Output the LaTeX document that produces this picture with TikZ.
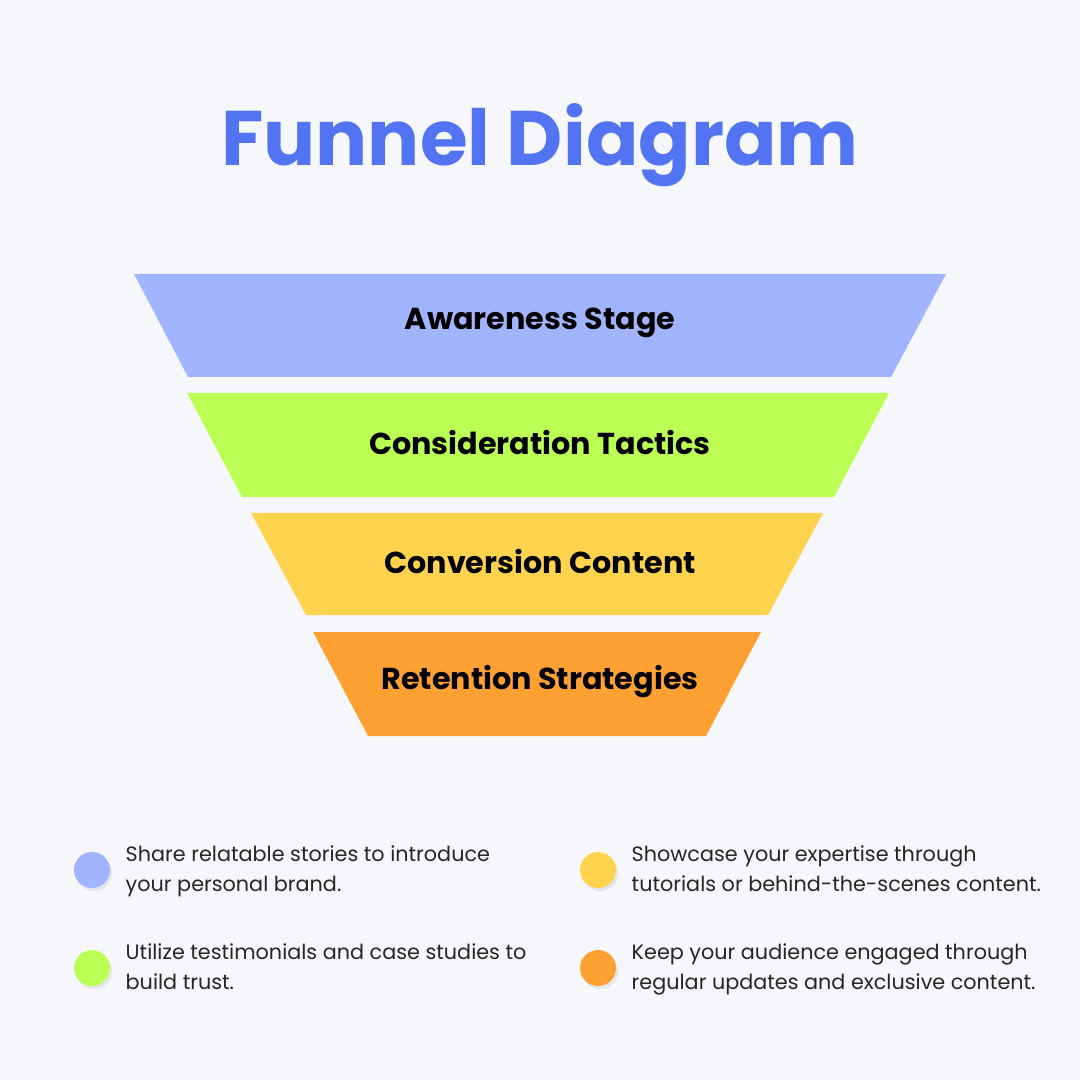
\documentclass[tikz,border=0pt]{standalone}
\usepackage{fontspec}
\setmainfont{Poppins}
\usetikzlibrary{shadows}
\definecolor{bgcol}{HTML}{F6F7FB}
\definecolor{titleblue}{HTML}{5274F2}
\definecolor{stageA}{HTML}{A0B4FF}
\definecolor{stageB}{HTML}{BBFF55}
\definecolor{stageC}{HTML}{FFD34E}
\definecolor{stageD}{HTML}{FFA033}
\tikzset{
  stagelabel/.style={font=\fontsize{8.6}{10}\selectfont\bfseries, text=black},
  notetext/.style={font=\fontsize{5.9}{8.6}\selectfont, text=black!85, anchor=north west, align=left, inner sep=0pt},
  dot/.style={circle, minimum size=0.36cm, inner sep=0pt, drop shadow={shadow xshift=0.02cm, shadow yshift=-0.03cm, opacity=0.15}}
}
\begin{document}
\begin{tikzpicture}[x=0.01cm,y=-0.01cm]
\fill[bgcol] (0,0) rectangle (1080,1080);
\useasboundingbox (0,0) rectangle (1080,1080);

\node[font=\fontsize{22}{26}\selectfont\bfseries, text=titleblue] (title) at (540,145) {Funnel Diagram};

% funnel stages
\fill[stageA] (134,274) -- (946,274) -- (891,377) -- (188,377) -- cycle;
\fill[stageB] (187,393) -- (889,393) -- (834,497) -- (242,497) -- cycle;
\fill[stageC] (251,513) -- (823,513) -- (768,615) -- (306,615) -- cycle;
\fill[stageD] (313,632) -- (761,632) -- (706,736) -- (368,736) -- cycle;

\node[stagelabel] (awareness) at (540,323) {Awareness Stage};
\node[stagelabel] (consideration) at (540,443) {Consideration Tactics};
\node[stagelabel] (conversion) at (540,562) {Conversion Content};
\node[stagelabel] (retention) at (540,682) {Retention Strategies};

% notes
\node[dot, fill=stageA] (dotA) at (92,870) {};
\node[dot, fill=stageB] (dotB) at (92,968) {};
\node[dot, fill=stageC] (dotC) at (598,870) {};
\node[dot, fill=stageD] (dotD) at (598,968) {};

\node[notetext] (noteA) at (125,845) {Share relatable stories to introduce\\your personal brand.};
\node[notetext] (noteB) at (125,943) {Utilize testimonials and case studies to\\build trust.};
\node[notetext] (noteC) at (631,845) {Showcase your expertise through\\tutorials or behind-the-scenes content.};
\node[notetext] (noteD) at (631,943) {Keep your audience engaged through\\regular updates and exclusive content.};

\end{tikzpicture}
\end{document}
